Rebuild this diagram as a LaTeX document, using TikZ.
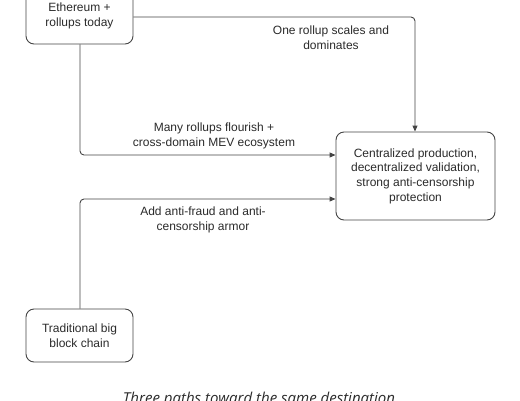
\documentclass[tikz,border=0pt]{standalone}
\usepackage{fontspec}
\setmainfont{Liberation Sans}
\newfontfamily\capfont{Open Sans}
\usetikzlibrary{arrows.meta}
\definecolor{ink}{HTML}{2A2A2A}
\definecolor{edge}{HTML}{444444}
\begin{document}
\begin{tikzpicture}[x=1pt,y=-1pt,
  box/.style={draw=edge,line width=0.9pt,rounded corners=8pt,text=ink,align=center,font=\fontsize{12}{14.7}\selectfont,inner sep=0pt},
  lbl/.style={text=ink,align=center,font=\fontsize{12}{14.7}\selectfont,inner sep=0pt},
  conn/.style={draw=edge,line width=0.9pt,rounded corners=4pt,-{Triangle[length=6pt,width=5pt]}}]
\useasboundingbox (0,0) rectangle (520,400);
\begin{scope}
\clip (0,0) rectangle (520,400);
\node[box,minimum width=107pt,minimum height=56pt] (eth) at (79.5,16) {Ethereum +\\rollups today};
\node[box,minimum width=159pt,minimum height=88pt] (dest) at (415.5,176) {Centralized production,\\decentralized validation,\\strong anti-censorship\\protection};
\node[box,minimum width=107pt,minimum height=53pt] (big) at (79.5,335.5) {Traditional big\\block chain};
\coordinate (c1) at (415,17);
\coordinate (c2) at (80,155);
\coordinate (c3) at (80,199);
\draw[conn] (eth.east |- 0,17) -- (c1) -- (dest.north -| c1);
\draw[conn] (eth.south -| c2) -- (c2) -- (dest.west |- c2);
\draw[conn] (big.north -| c3) -- (c3) -- (dest.west |- c3);
\node[lbl] (l1) at (331,38) {One rollup scales and\\dominates};
\node[lbl] (l2) at (214,136) {Many rollups flourish +\\cross-domain MEV ecosystem};
\node[lbl] (l3) at (203,220) {Add anti-fraud and anti-\\censorship armor};
\node[text=ink,inner sep=0pt,anchor=base] (cap) at (259,403) {\resizebox{272pt}{!}{\capfont\fontsize{14}{16}\selectfont\itshape Three paths toward the same destination}};
\end{scope}
\end{tikzpicture}
\end{document}
